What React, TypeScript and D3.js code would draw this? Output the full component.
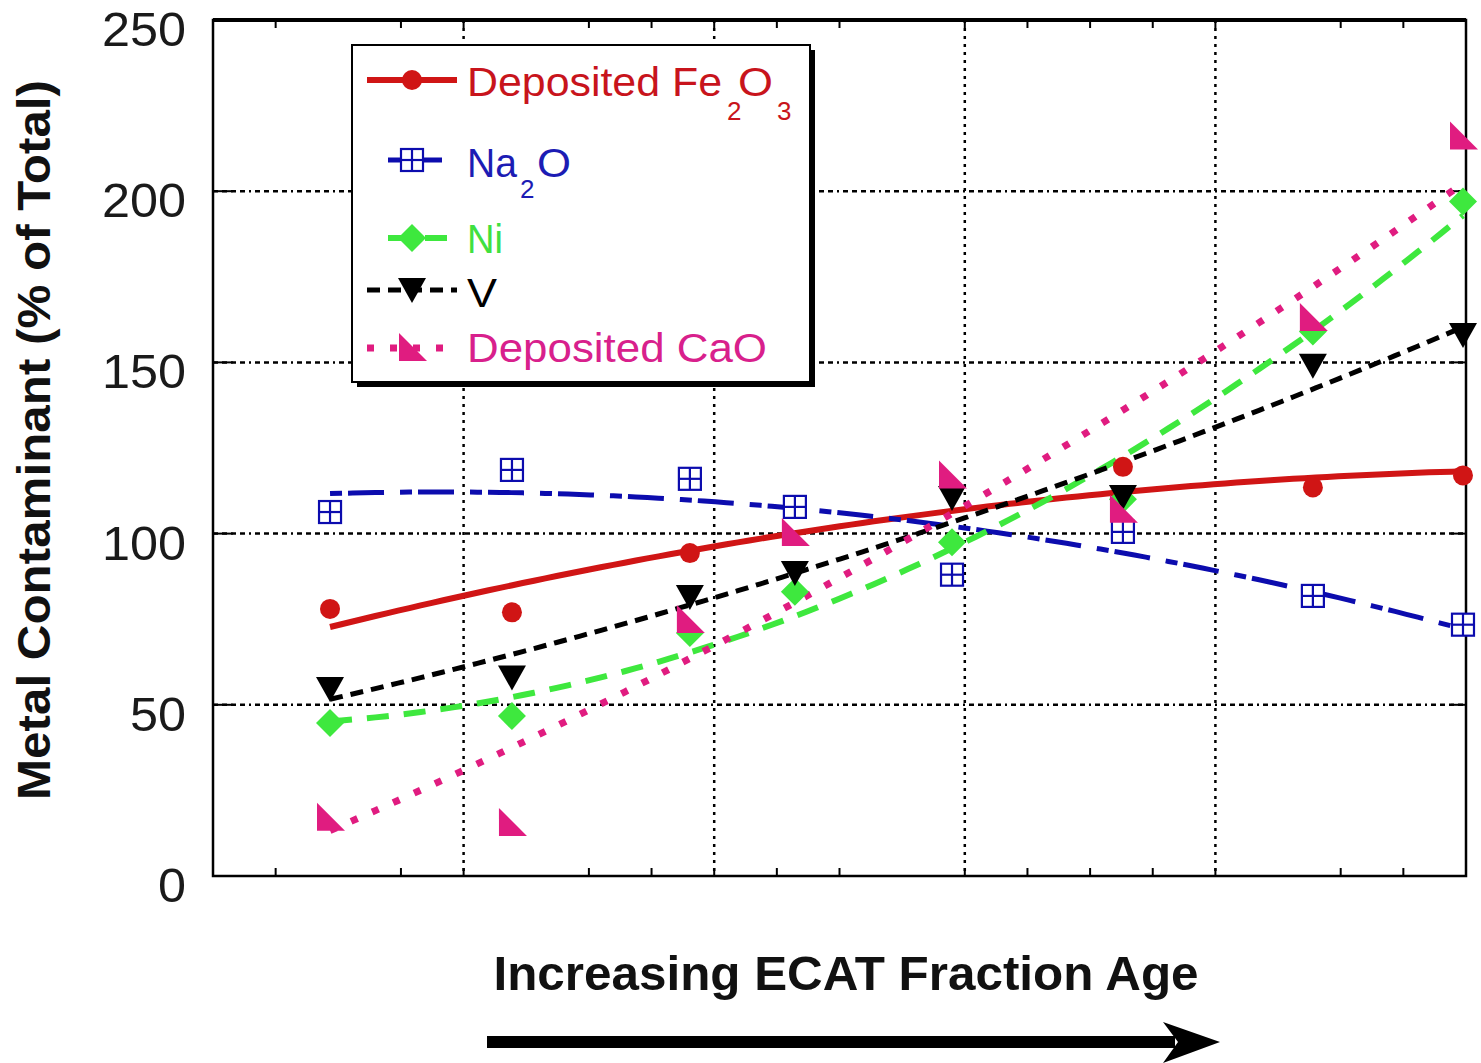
import React from "react";
import * as d3 from "d3";

// sample positions along the (unlabelled) age axis, 0..5
const ages = [0.467, 1.193, 1.903, 2.322, 2.949, 3.631, 4.389, 4.988];

// null = point not visible in the source (hidden under other markers)
const fe2o3 = [78, 77, 94.3, null, null, 119.5, 113.5, 117];
const na2o = [106.3, 118.6, 116, 107.8, 88, 100.5, 81.8, 73.4];
const ni = [44.7, 46.7, 71, 83, 97.5, 110, 159, 197];
const vanadium = [54.6, 58, 81.5, 88.5, 110.4, 110.7, 149, 158];
const cao = [17, 15.5, 74.8, 100.2, 117, 107, 163, 216];

const yTicks = [0, 50, 100, 150, 200, 250];
const xMajor = [1, 2, 3, 4];
const xMinor = [0.25, 0.75, 1.5, 1.75, 2.25, 2.5, 3.25, 3.5, 3.75, 4.5, 4.75];

const W = 1481, H = 1063;
const left = 213, right = 1466, top = 20, bottom = 876;

const x = d3.scaleLinear().domain([0, 5]).range([left, right]);
const y = d3.scaleLinear().domain([0, 250]).range([bottom, top]);

// least squares quadratic trend, like the original curve fit
function quadFit(xs: number[], ys: number[]) {
  let s = [0, 0, 0, 0, 0], t = [0, 0, 0];
  xs.forEach((xv, i) => {
    for (let k = 0; k < 5; k++) s[k] += Math.pow(xv, k);
    for (let k = 0; k < 3; k++) t[k] += Math.pow(xv, k) * ys[i];
  });
  const A = [[s[0], s[1], s[2], t[0]], [s[1], s[2], s[3], t[1]], [s[2], s[3], s[4], t[2]]];
  for (let i = 0; i < 3; i++) {
    for (let j = i + 1; j < 3; j++) {
      const f = A[j][i] / A[i][i];
      for (let k = i; k < 4; k++) A[j][k] -= f * A[i][k];
    }
  }
  const c = [0, 0, 0];
  for (let i = 2; i >= 0; i--) {
    let v = A[i][3];
    for (let k = i + 1; k < 3; k++) v -= A[i][k] * c[k];
    c[i] = v / A[i][i];
  }
  return (xv: number) => c[0] + c[1] * xv + c[2] * xv * xv;
}

const series = [
  { name: "fe", values: fe2o3, color: "#d01515", dash: "", width: 6, marker: "circle" },
  { name: "na", values: na2o, color: "#0c0cae", dash: "12 6 36 16", width: 5, marker: "square" },
  { name: "ni", values: ni, color: "#3ee83e", dash: "22 15", width: 6, marker: "diamond" },
  { name: "v", values: vanadium, color: "#000000", dash: "13 8", width: 5, marker: "tri" },
  { name: "cao", values: cao, color: "#e01c80", dash: "7 16", width: 7, marker: "rtri" },
];

function Marker({ type, cx, cy, color }: { type: string; cx: number; cy: number; color: string }) {
  if (type === "circle") return <circle cx={cx} cy={cy} r={10} fill={color} />;
  if (type === "square")
    return (
      <g stroke={color} strokeWidth={2.2} fill="#fff">
        <rect x={cx - 11} y={cy - 11} width={22} height={22} />
        <line x1={cx} x2={cx} y1={cy - 11} y2={cy + 11} />
        <line x1={cx - 11} x2={cx + 11} y1={cy} y2={cy} />
      </g>
    );
  if (type === "diamond")
    return <path d={`M${cx},${cy - 14}L${cx + 14},${cy}L${cx},${cy + 14}L${cx - 14},${cy}Z`} fill={color} />;
  if (type === "tri")
    return <path d={`M${cx - 14},${cy - 12}L${cx + 14},${cy - 12}L${cx},${cy + 13}Z`} fill={color} />;
  return <path d={`M${cx - 13},${cy - 15}L${cx - 13},${cy + 13}L${cx + 15},${cy + 13}Z`} fill={color} />;
}

export default function App() {
  const line = d3.line<[number, number]>().x(d => x(d[0])).y(d => y(d[1]));
  const font = "'Liberation Sans', Arial, sans-serif";

  const legend = [
    { s: series[0], ly: 80, x1: 367, x2: 457 },
    { s: series[1], ly: 160, x1: 388, x2: 452 },
    { s: series[2], ly: 238, x1: 388, x2: 452 },
    { s: series[3], ly: 290, x1: 367, x2: 457 },
    { s: series[4], ly: 348, x1: 367, x2: 457 },
  ];
  const red = "#c8141c", blue = "#1c1cb4", green = "#40e040", pink = "#d8208c";

  return (
    <svg width={W} height={H} style={{ position: "absolute", left: 0, top: 0, background: "#fff" }} fontFamily={font}>
      {/* grid */}
      {yTicks.filter(v => v > 0 && v < 250).map(v => (
        <line key={"gy" + v} x1={left} x2={right} y1={y(v)} y2={y(v)} stroke="#000" strokeWidth={2.5}
          strokeDasharray="5 4 5 4 5 4 5 4 2 4" />
      ))}
      {xMajor.map(v => (
        <line key={"gx" + v} x1={x(v)} x2={x(v)} y1={top} y2={bottom} stroke="#000" strokeWidth={2.5}
          strokeDasharray="3 5" />
      ))}

      {/* ticks */}
      {yTicks.map(v => (
        <g key={"ty" + v}>
          <line x1={left} x2={left + 20} y1={y(v)} y2={y(v)} stroke="#000" strokeWidth={2} />
          <line x1={right - 15} x2={right} y1={y(v)} y2={y(v)} stroke="#000" strokeWidth={2} />
          <text x={186} y={y(v) + 26} textAnchor="end" fontSize={48} fill="#1a1a1a"
            textLength={String(v).length * 28} lengthAdjust="spacingAndGlyphs">{v}</text>
        </g>
      ))}
      {xMinor.concat(xMajor).map(v => (
        <g key={"tx" + v}>
          <line x1={x(v)} x2={x(v)} y1={bottom} y2={bottom - 8} stroke="#000" strokeWidth={2} />
          <line x1={x(v)} x2={x(v)} y1={top} y2={top + 8} stroke="#000" strokeWidth={2} />
        </g>
      ))}

      {/* frame */}
      <rect x={left} y={top} width={right - left} height={bottom - top} fill="none" stroke="#000" strokeWidth={2.5} />
      <line x1={left} x2={right} y1={top} y2={top} stroke="#000" strokeWidth={4} />

      {/* trend curves */}
      {series.map(s => {
        const idx = s.values.map((v, i) => i).filter(i => s.values[i] != null);
        const f = quadFit(idx.map(i => ages[i]), idx.map(i => s.values[i] as number));
        const pts = d3.range(0, 101).map(i => {
          const xv = ages[0] + (ages[ages.length - 1] - ages[0]) * i / 100;
          return [xv, f(xv)] as [number, number];
        });
        return (
          <path key={"l" + s.name} d={line(pts) || ""} fill="none" stroke={s.color} strokeWidth={s.width}
            strokeDasharray={s.dash || undefined} />
        );
      })}
      {series.map(s => (
        <g key={"m" + s.name}>
          {s.values.map((v, i) => v == null ? null : (
            <Marker key={i} type={s.marker} cx={x(ages[i])} cy={y(v)} color={s.color} />
          ))}
        </g>
      ))}

      {/* legend */}
      <rect x={357} y={50} width={458} height={337} fill="#000" />
      <rect x={352} y={45} width={458} height={337} fill="#fff" stroke="#000" strokeWidth={2} />
      {legend.map(l => (
        <g key={"lg" + l.s.name}>
          <line x1={l.x1} x2={l.x2} y1={l.ly} y2={l.ly} stroke={l.s.color} strokeWidth={l.s.width}
            strokeDasharray={l.s.dash || undefined} />
          <Marker type={l.s.marker} cx={412} cy={l.ly} color={l.s.color} />
        </g>
      ))}
      <g fontSize={40}>
        <text x={467} y={96} fill={red} textLength={255} lengthAdjust="spacingAndGlyphs">Deposited Fe</text>
        <text x={727} y={120} fill={red} fontSize={26}>2</text>
        <text x={738} y={96} fill={red} textLength={35} lengthAdjust="spacingAndGlyphs">O</text>
        <text x={777} y={120} fill={red} fontSize={26}>3</text>

        <text x={467} y={177} fill={blue} textLength={50} lengthAdjust="spacingAndGlyphs">Na</text>
        <text x={520} y={198} fill={blue} fontSize={26}>2</text>
        <text x={537} y={177} fill={blue} textLength={34} lengthAdjust="spacingAndGlyphs">O</text>

        <text x={467} y={253} fill={green} textLength={36} lengthAdjust="spacingAndGlyphs">Ni</text>
        <text x={467} y={307} fill="#000" textLength={30} lengthAdjust="spacingAndGlyphs">V</text>
        <text x={467} y={362} fill={pink} textLength={300} lengthAdjust="spacingAndGlyphs">Deposited CaO</text>
      </g>

      {/* axis titles */}
      <text transform="translate(50,440) rotate(-90)" textAnchor="middle" fontSize={46} fontWeight="bold"
        textLength={720} lengthAdjust="spacingAndGlyphs" fill="#111">Metal Contaminant (% of Total)</text>
      <text x={846} y={990} textAnchor="middle" fontSize={48} fontWeight="bold" textLength={705}
        lengthAdjust="spacingAndGlyphs" fill="#111">Increasing ECAT Fraction Age</text>

      {/* arrow */}
      <line x1={487} x2={1175} y1={1042} y2={1042} stroke="#000" strokeWidth={12} />
      <path d="M1163,1022L1220,1042L1163,1063L1178,1042Z" fill="#000" />
    </svg>
  );
}
